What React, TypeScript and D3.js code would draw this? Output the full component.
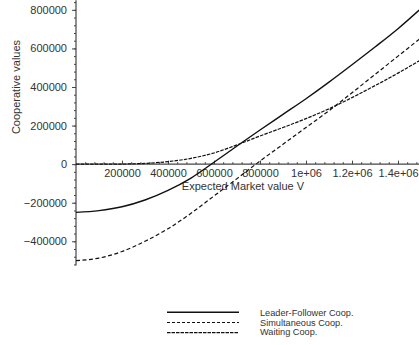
import React, { useEffect, useRef } from 'react';
import * as d3 from 'd3';

// expected market value V
const marketValues = [0, 100000, 200000, 300000, 400000, 500000, 600000, 700000, 800000, 900000, 1000000, 1100000, 1200000, 1300000, 1400000, 1500000];

const leaderFollower = [-250000, -241000, -221000, -186000, -136000, -72000, 10000, 94000, 177000, 258000, 339000, 425000, 515000, 607000, 702000, 807000];
const simultaneous = [-500000, -487000, -453000, -400000, -335000, -255000, -165000, -75000, 16000, 103000, 190000, 277000, 370000, 465000, 560000, 655000];
const waiting = [0, 0, 500, 4000, 13000, 30000, 58000, 100000, 146000, 190000, 236000, 287000, 345000, 407000, 472000, 541000];

const seriesNames = ["Leader-Follower Coop.", "Simultaneous Coop.", "Waiting Coop."];

const xTicks = [200000, 400000, 600000, 800000, 1000000, 1200000, 1400000];
const yTicks = [-400000, -200000, 0, 200000, 400000, 600000, 800000];

const fmt = (v: number) => {
  if (Math.abs(v) >= 1e6) return `${v / 1e6}e+06`;
  return v < 0 ? `\u2212${-v}` : `${v}`;
};

const App = () => {
  const svgRef = useRef<SVGSVGElement>(null);

  useEffect(() => {
    const width = 419;
    const height = 345;

    const x = d3.scaleLinear().domain([0, 1500000]).range([76, 421]);
    const y = d3.scaleLinear().domain([-525000, 850000]).range([265.4, 0.2]);

    const svg = d3.select(svgRef.current)
      .attr("width", width)
      .attr("height", height)
      .style("font-family", "'Liberation Sans', Arial, sans-serif");
    svg.selectAll("*").remove();

    const axisColor = "#444";

    // y axis: minor then major ticks
    svg.append("g")
      .attr("transform", `translate(${x(0)},0)`)
      .call(d3.axisLeft(y).tickValues(d3.range(-520000, 840001, 40000)).tickSize(2).tickFormat(() => ""))
      .call(g => g.select(".domain").remove())
      .call(g => g.selectAll("line").attr("stroke", axisColor));

    svg.append("g")
      .attr("transform", `translate(${x(0)},0)`)
      .call(d3.axisLeft(y).tickValues(yTicks).tickSize(4).tickPadding(5).tickFormat(d => fmt(+d)))
      .call(g => g.select(".domain").attr("d", `M0,${y(-525000)}V${y(850000)}`).attr("stroke", axisColor).attr("stroke-width", 1.2))
      .call(g => g.selectAll("line").attr("stroke", axisColor))
      .call(g => g.selectAll("text").attr("font-size", 11).attr("fill", "#333").attr("font-family", null))
      .call(g => g.attr("font-family", null).attr("font-size", null));

    // x axis at zero
    svg.append("g")
      .attr("transform", `translate(0,${y(0)})`)
      .call(d3.axisBottom(x).tickValues(d3.range(40000, 1500000, 40000)).tickSize(-2).tickFormat(() => ""))
      .call(g => g.select(".domain").remove())
      .call(g => g.selectAll("line").attr("stroke", axisColor));

    svg.append("g")
      .attr("transform", `translate(0,${y(0)})`)
      .call(d3.axisBottom(x).tickValues(xTicks).tickSize(-3.5).tickPadding(5).tickFormat(d => fmt(+d)))
      .call(g => g.select(".domain").attr("d", `M${x(0)},0H${width}`).attr("stroke", axisColor).attr("stroke-width", 1.2))
      .call(g => g.selectAll("line").attr("stroke", axisColor))
      .call(g => g.selectAll("text").attr("font-size", 11).attr("fill", "#333"))
      .call(g => g.attr("font-family", null).attr("font-size", null));

    // axis titles
    svg.append("text")
      .attr("x", x(726000))
      .attr("y", 190)
      .attr("text-anchor", "middle")
      .attr("font-size", 11)
      .attr("fill", "#333")
      .text("Expected Market value V");

    svg.append("text")
      .attr("transform", `translate(20,87) rotate(-90)`)
      .attr("text-anchor", "middle")
      .attr("font-size", 11)
      .attr("fill", "#333")
      .text("Cooperative values");

    const styles = [
      { values: leaderFollower, dash: null, width: 1.4 },
      { values: simultaneous, dash: "4,2.5", width: 1.2 },
      { values: waiting, dash: "3.5,1.2", width: 1.2 },
    ];

    const line = d3.line<[number, number]>()
      .x(d => x(d[0]))
      .y(d => y(d[1]))
      .curve(d3.curveMonotoneX);

    svg.append("g")
      .attr("fill", "none")
      .attr("stroke", "#111")
      .selectAll("path")
      .data(styles)
      .join("path")
      .attr("stroke-width", d => d.width)
      .attr("stroke-dasharray", d => d.dash)
      .attr("d", d => line(marketValues.map((v, i) => [v, d.values[i]] as [number, number])));

    // legend
    const legend = svg.append("g")
      .selectAll("g")
      .data(styles)
      .join("g");

    legend.append("line")
      .attr("x1", 167)
      .attr("x2", 239)
      .attr("y1", (d, i) => 312.3 + i * 10.2)
      .attr("y2", (d, i) => 312.3 + i * 10.2)
      .attr("stroke", "#111")
      .attr("stroke-width", d => d.width)
      .attr("stroke-dasharray", (d, i) => (i === 0 ? null : i === 1 ? "3,2" : "3.5,1"));

    legend.append("text")
      .attr("x", 260)
      .attr("y", (d, i) => 316.3 + i * 9.4)
      .attr("font-size", 9.2)
      .attr("fill", "#333")
      .text((d, i) => seriesNames[i]);
  }, []);

  return (
    <svg ref={svgRef} style={{ position: 'absolute', left: 0, top: 0 }} />
  );
};

export default App;
